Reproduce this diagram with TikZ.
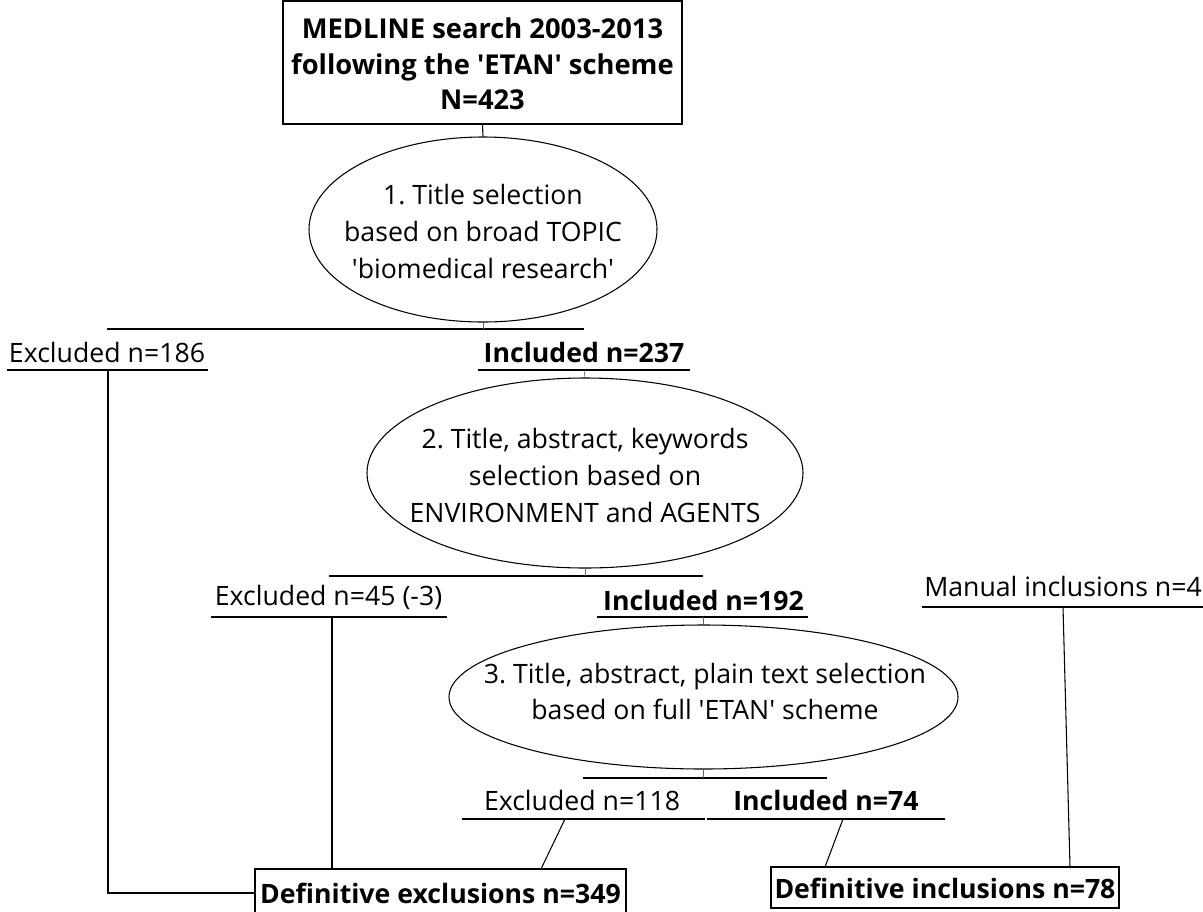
\documentclass[tikz,border=0pt]{standalone}
\usepackage{fontspec}
\setmainfont{Open Sans}
\usetikzlibrary{shapes.geometric}
\newdimen\px \px=0.75pt
\newcommand\sq{\textquotesingle}
\frenchspacing
\begin{document}
\begin{tikzpicture}[x=0.75pt,y=-0.75pt,line width=0.8pt,
  txt/.style={inner sep=0pt,font=\frenchspacing\fontsize{20}{27.75}\selectfont,align=center},
  btxt/.style={inner sep=0pt,font=\frenchspacing\fontsize{20}{27}\selectfont\bfseries,align=center},
  sel/.style={draw,ellipse,inner sep=0pt},
  frame/.style={draw,rectangle,inner sep=0pt,line width=1pt},
  ul/.style={line width=0.9pt},
  tick/.style={line width=0.5pt,black!60}]
\useasboundingbox (0,0) rectangle (1203,911);

% top box
\node[frame,minimum width=399\px,minimum height=123\px] (top) at (482.5,62.5) {};
\node[btxt,font=\fontsize{20.5}{26.5}\selectfont\bfseries] (toptxt) at (482.5,64) {MEDLINE search 2003-2013\\following the \sq ETAN\sq\ scheme\\N=423};

% ellipse 1
\node[sel,minimum width=348\px,minimum height=185\px] (e1) at (483,229.5) {};
\node[txt] (e1t) at (483,231) {1. Title selection\\based on broad TOPIC\\\sq biomedical research\sq};
\draw (top.south) -- (e1.north);

% split 1
\coordinate (s1a) at (107,329);
\coordinate (s1b) at (584,329);
\draw (s1a) -- (s1b);
\draw[tick] (e1.south) -- (e1.south |- s1a);

\node[txt] (x186) at (107,352) {Excluded n=186};
\coordinate (u186a) at (7,370); \coordinate (u186b) at (208,370); \coordinate (u186c) at (108,370);
\draw[ul] (u186a) -- (u186b);

\node[btxt] (i237) at (584,352) {Included n=237};
\coordinate (u237a) at (478,370); \coordinate (u237b) at (690,370); \coordinate (u237c) at (584,370);
\draw[ul] (u237a) -- (u237b);

% ellipse 2
\node[sel,minimum width=436\px,minimum height=190\px] (e2) at (585,473) {};
\node[txt] (e2t) at (585,475) {2. Title, abstract, keywords\\selection based on\\ENVIRONMENT and AGENTS};
\draw[tick] (u237c) -- (e2.north);

% split 2
\coordinate (s2a) at (329,576);
\coordinate (s2b) at (703,576);
\draw (s2a) -- (s2b);
\draw[tick] (e2.south) -- (e2.south |- s2a);

\node[txt] (x45) at (328.5,597) {Excluded n=45 (-3)};
\coordinate (u45a) at (211,617); \coordinate (u45b) at (447,617); \coordinate (u45c) at (332,617);
\draw[ul] (u45a) -- (u45b);

\node[btxt] (i192) at (703.5,600) {Included n=192};
\coordinate (u192a) at (597,617); \coordinate (u192b) at (808,617); \coordinate (u192c) at (703.5,617);
\draw[ul] (u192a) -- (u192b);

\node[txt] (man) at (1063,586) {Manual inclusions n=4};
\coordinate (umana) at (922,607); \coordinate (umanb) at (1203,607); \coordinate (umanc) at (1063,607);
\draw[ul] (umana) -- (umanb);

% ellipse 3
\node[sel,minimum width=509\px,minimum height=144\px] (e3) at (703.5,697) {};
\node[txt,font=\frenchspacing\fontsize{20}{27}\selectfont] (e3t) at (705,691) {3. Title, abstract, plain text selection\\based on full \sq ETAN\sq\ scheme};
\draw[tick] (u192c) -- (e3.north);

% split 3
\coordinate (s3a) at (583,778);
\coordinate (s3b) at (827,778);
\draw (s3a) -- (s3b);
\draw[tick] (e3.south) -- (e3.south |- s3a);

\node[txt] (x118) at (582,800) {Excluded n=118};
\coordinate (u118a) at (462,819); \coordinate (u118b) at (705,819); \coordinate (u118c) at (565,819);
\draw[ul] (u118a) -- (u118b);

\node[btxt] (i74) at (826,800) {Included n=74};
\coordinate (u74a) at (707,819); \coordinate (u74b) at (945,819); \coordinate (u74c) at (843,819);
\draw[ul] (u74a) -- (u74b);

% definitive boxes
\node[frame,minimum width=371\px,minimum height=48\px] (dex) at (440.5,893) {};
\node[btxt] (dext) at (440.5,893) {Definitive exclusions n=349};
\node[frame,minimum width=348\px,minimum height=41\px] (din) at (945,887.5) {};
\node[btxt] (dint) at (945,888) {Definitive inclusions n=78};

% connectors to boxes
\draw (u186c) |- (dex.west);
\draw (u45c) -- (u45c |- dex.north);
\draw (u118c) -- (541,869);
\draw (u74c) -- (825,867);
\draw (umanc) -- (1070,867);
\end{tikzpicture}
\end{document}
